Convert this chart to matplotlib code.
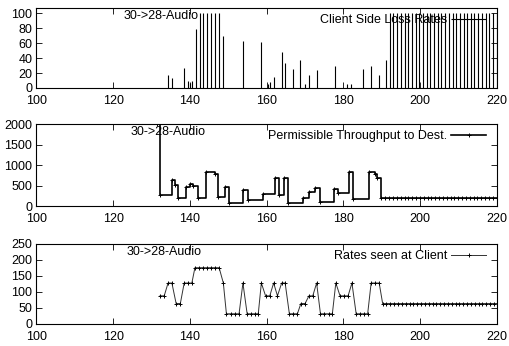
import matplotlib
matplotlib.use("Agg")
import matplotlib.pyplot as plt

plt.rcParams["font.family"] = ["Liberation Sans", "DejaVu Sans"]
plt.rcParams["font.size"] = 9

# Client side loss rates (impulses), time in s, loss in %
loss_t = [134.4, 135.4, 138.4, 139.6, 140.1, 140.5, 141.5, 142.5, 143.5, 144.5,
          145.6, 146.6, 147.7, 148.6, 153.7, 158.6, 160.4, 160.8, 161.8, 163.9,
          164.8, 166.9, 168.8, 170.0, 170.9, 173.0, 177.9, 180.8, 181.9, 185.1,
          187.2, 189.3, 191.2,
          192.1, 193.0, 194.0, 194.9, 195.9, 196.9, 197.8, 198.8, 199.7, 200.7,
          201.7, 202.6, 203.6, 204.5, 205.5, 206.5, 207.4, 208.4, 209.3, 210.3,
          211.3, 212.2, 213.2, 214.1, 215.1, 216.1, 217.0, 218.0, 218.9, 219.9]
loss_pct = [18, 13, 27, 9, 7, 9, 79, 100, 100, 100,
            100, 100, 100, 69, 63, 61, 6, 8, 15, 48,
            34, 25, 38, 6, 17, 24, 29, 6, 6, 25,
            29, 18, 38,
            100, 100, 100, 100, 100, 100, 100, 100, 100, 100,
            100, 100, 100, 100, 100, 100, 100, 100, 100, 100,
            100, 100, 100, 100, 100, 100, 100, 100, 100, 100]

# Permissible throughput to destination (steps)
thr_t = [131.5, 132.2, 135.2, 136.1, 137.0, 139.0, 140.0, 140.9, 142.0, 144.2,
         146.4, 147.3, 149.2, 150.1, 153.8, 155.1, 159.1, 162.1, 163.2, 164.5,
         165.6, 169.4, 171.1, 172.6, 173.9, 177.4, 178.7, 181.5, 182.6, 186.6,
         188.3, 188.8, 189.9,
         190.9, 191.9, 192.9, 193.9, 194.9, 195.9, 196.9, 197.9, 198.9, 199.9,
         200.9, 201.9, 202.9, 203.9, 204.9, 205.9, 206.9, 207.9, 208.9, 209.9,
         210.9, 211.9, 212.9, 213.9, 214.9, 215.9, 216.9, 217.9, 218.9, 219.9,
         220.9]
thr_v = [2000, 270, 640, 520, 190, 460, 540, 500, 190, 820,
         790, 210, 475, 80, 390, 150, 290, 680, 270, 680,
         65, 190, 350, 450, 105, 420, 310, 820, 165, 820,
         790, 680, 190,
         190, 190, 190, 190, 190, 190, 190, 190, 190, 190,
         190, 190, 190, 190, 190, 190, 190, 190, 190, 190,
         190, 190, 190, 190, 190, 190, 190, 190, 190, 190,
         190]

# Rates seen at client (linespoints)
rate_t = [132.2, 133.3, 134.3, 135.3, 136.4, 137.5, 138.5, 139.6, 140.5, 141.3,
          142.4, 143.4, 144.4, 145.5, 146.5, 147.6, 148.7, 149.5, 150.6, 151.7,
          152.8, 153.8, 154.9, 155.9, 156.9, 157.8, 158.6, 159.7, 160.8, 161.8,
          162.8, 163.9, 164.8, 165.9, 166.9, 168.0, 168.9, 170.0, 171.0, 172.0,
          173.0, 174.0, 175.0, 176.1, 177.1, 178.0, 179.1, 180.2, 181.2, 182.2,
          183.3, 184.3, 185.3, 186.3, 187.2, 188.3, 189.3,
          190.2, 191.2, 192.2, 193.2, 194.2, 195.2, 196.2, 197.2, 198.2, 199.2,
          200.2, 201.2, 202.2, 203.2, 204.2, 205.2, 206.2, 207.2, 208.2, 209.2,
          210.2, 211.2, 212.2, 213.2, 214.2, 215.2, 216.2, 217.2, 218.2, 219.2,
          220.2]
rate_v = [88, 88, 128, 128, 64, 64, 128, 128, 128, 176,
          176, 176, 176, 176, 176, 176, 128, 32, 32, 32,
          32, 128, 32, 32, 32, 32, 128, 88, 88, 128,
          88, 128, 128, 32, 32, 32, 64, 64, 88, 88,
          128, 32, 32, 32, 32, 128, 88, 88, 88, 128,
          32, 32, 32, 32, 128, 128, 128,
          64, 64, 64, 64, 64, 64, 64, 64, 64, 64,
          64, 64, 64, 64, 64, 64, 64, 64, 64, 64,
          64, 64, 64, 64, 64, 64, 64, 64, 64, 64,
          64]

x_ticks = [100, 120, 140, 160, 180, 200, 220]
caption = "30->28-Audio"


def style_axes(ax, ymax, yticks, cap_x):
    ax.set_xlim(100, 220)
    ax.set_ylim(0, ymax)
    ax.set_xticks(x_ticks)
    ax.set_yticks(yticks)
    ax.tick_params(direction="in", top=True, right=True, length=4,
                   width=0.6, labelsize=9)
    ax.tick_params(axis="x", pad=5)
    ax.tick_params(axis="y", pad=3)
    for s in ax.spines.values():
        s.set_linewidth(0.8)
    ax.text(cap_x, 0.975, caption, transform=ax.transAxes,
            ha="left", va="top", fontsize=9)
    ax.legend(loc="upper right", frameon=False, markerfirst=False,
              handlelength=2.8, handletextpad=0.3, borderaxespad=0.2,
              borderpad=0.3, numpoints=1, fontsize=9,
              bbox_to_anchor=(0.99, 1.0))


fig = plt.figure(figsize=(5.09, 3.46), dpi=100)
left, width = 0.0715, 0.905

# Top: loss rates
ax1 = fig.add_axes([left, 0.7457, width, 0.2312])
ax1.vlines(loss_t, 0, loss_pct, colors="black", linewidth=0.8,
           label="Client Side Loss Rates")
style_axes(ax1, 107, [0, 20, 40, 60, 80, 100], 0.19)

# Middle: permissible throughput
ax2 = fig.add_axes([left, 0.4046, width, 0.237])
ax2.plot(thr_t, thr_v, drawstyle="steps-post", color="black", linewidth=1.2,
         marker="+", markersize=2.5, markeredgewidth=0.7,
         label="Permissible Throughput to Dest.")
style_axes(ax2, 2000, [0, 500, 1000, 1500, 2000], 0.205)

# Bottom: rates seen at client
ax3 = fig.add_axes([left, 0.0636, width, 0.2312])
ax3.plot(rate_t, rate_v, color="#333333", linewidth=0.7,
         marker="+", markersize=3.5, markeredgewidth=0.7, markeredgecolor="black",
         label="Rates seen at Client")
style_axes(ax3, 250, [0, 50, 100, 150, 200, 250], 0.195)

fig.savefig("out.png", dpi=100)
